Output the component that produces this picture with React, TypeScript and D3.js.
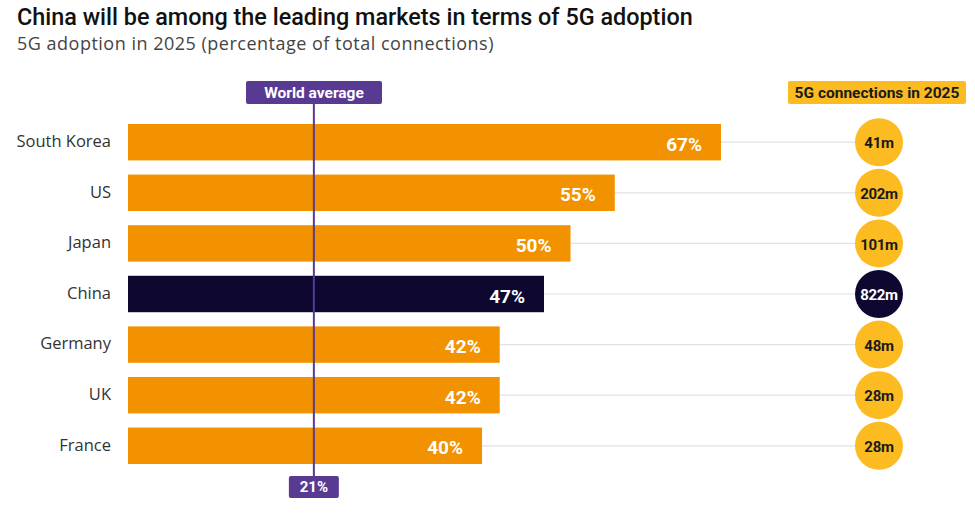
import React, { useEffect, useRef } from "react";
import * as d3 from "d3";

const countries = ["South Korea", "US", "Japan", "China", "Germany", "UK", "France"];
const adoption = [67, 55, 50, 47, 42, 42, 40];
const connections = ["41m", "202m", "101m", "822m", "48m", "28m", "28m"];
const highlight = "China";
const worldAverage = 21;

const W = 975;
const H = 513;
const ORANGE = "#f39200";
const NAVY = "#0e0830";
const YELLOW = "#fbbb21";
const PURPLE = "#593a92";

export default function App() {
  const ref = useRef<SVGSVGElement>(null);

  useEffect(() => {
    if (!ref.current) return;
    const svg = d3.select(ref.current);
    svg.selectAll("*").remove();
    const font = "Roboto, 'Open Sans', sans-serif";
    const wide = "'Open Sans', Roboto, sans-serif";

    // scales
    const x = d3.scaleLinear().domain([0, 67]).range([128, 721]);
    const y = d3
      .scaleBand<string>()
      .domain(countries)
      .range([124, 464])
      .paddingInner(0.28)
      .paddingOuter(0);
    const circleX = 879;

    // title
    svg
      .append("text")
      .attr("x", 17)
      .attr("y", 25)
      .attr("font-family", font)
      .attr("font-size", 23.4)
      .attr("font-weight", 500)
      .attr("fill", "#111")
      .text("China will be among the leading markets in terms of 5G adoption");
    svg
      .append("text")
      .attr("x", 17)
      .attr("y", 50)
      .attr("font-family", wide)
      .attr("font-size", 18)
      .attr("letter-spacing", 0.5)
      .attr("fill", "#444")
      .text("5G adoption in 2025 (percentage of total connections)");

    const rows = svg
      .append("g")
      .selectAll("g")
      .data(countries)
      .join("g");

    // connector lines
    rows
      .append("line")
      .attr("x1", (d, i) => x(adoption[i]))
      .attr("x2", circleX)
      .attr("y1", (d) => y(d)! + y.bandwidth() / 2)
      .attr("y2", (d) => y(d)! + y.bandwidth() / 2)
      .attr("stroke", "#e2e2e2")
      .attr("stroke-width", 1.2);

    rows
      .append("rect")
      .attr("x", x(0))
      .attr("y", (d) => y(d)!)
      .attr("width", (d, i) => x(adoption[i]) - x(0))
      .attr("height", y.bandwidth())
      .attr("fill", (d) => (d === highlight ? NAVY : ORANGE));

    rows
      .append("text")
      .attr("x", 111)
      .attr("y", (d) => y(d)! + y.bandwidth() / 2 - 1)
      .attr("dy", "0.35em")
      .attr("text-anchor", "end")
      .attr("font-family", wide)
      .attr("font-size", 16.5)
      .attr("fill", "#333")
      .text((d) => d);

    rows
      .append("text")
      .attr("x", (d, i) => x(adoption[i]) - 19)
      .attr("y", (d) => y(d)! + y.bandwidth() / 2 + 2)
      .attr("dy", "0.35em")
      .attr("text-anchor", "end")
      .attr("font-family", font)
      .attr("font-size", 19)
      .attr("font-weight", 700)
      .attr("fill", "#fff")
      .text((d, i) => `${adoption[i]}%`);

    rows
      .append("circle")
      .attr("cx", circleX)
      .attr("cy", (d) => y(d)! + y.bandwidth() / 2)
      .attr("r", 24)
      .attr("fill", (d) => (d === highlight ? NAVY : YELLOW));

    rows
      .append("text")
      .attr("x", circleX)
      .attr("y", (d) => y(d)! + y.bandwidth() / 2 + 1)
      .attr("dy", "0.35em")
      .attr("text-anchor", "middle")
      .attr("font-family", font)
      .attr("font-size", 15)
      .attr("font-weight", 700)
      .attr("letter-spacing", -0.3)
      .attr("fill", (d) => (d === highlight ? "#fff" : "#1a1a1a"))
      .text((d, i) => connections[i]);

    // world average
    const ax = x(worldAverage);
    svg
      .append("line")
      .attr("x1", ax)
      .attr("x2", ax)
      .attr("y1", 104)
      .attr("y2", 477)
      .attr("stroke", PURPLE)
      .attr("stroke-width", 2);
    svg
      .append("rect")
      .attr("x", 246)
      .attr("y", 81)
      .attr("width", 136)
      .attr("height", 23)
      .attr("rx", 2)
      .attr("fill", PURPLE);
    svg
      .append("text")
      .attr("x", 314)
      .attr("y", 92.5)
      .attr("dy", "0.35em")
      .attr("text-anchor", "middle")
      .attr("font-family", font)
      .attr("font-size", 15.5)
      .attr("font-weight", 700)
      .attr("fill", "#fff")
      .text("World average");
    svg
      .append("rect")
      .attr("x", ax - 25)
      .attr("y", 476)
      .attr("width", 50)
      .attr("height", 22)
      .attr("rx", 2)
      .attr("fill", PURPLE);
    svg
      .append("text")
      .attr("x", ax)
      .attr("y", 487)
      .attr("dy", "0.35em")
      .attr("text-anchor", "middle")
      .attr("font-family", font)
      .attr("font-size", 15)
      .attr("font-weight", 700)
      .attr("fill", "#fff")
      .text(`${worldAverage}%`);

    // connections header
    svg
      .append("rect")
      .attr("x", 788)
      .attr("y", 81)
      .attr("width", 178)
      .attr("height", 23)
      .attr("rx", 2)
      .attr("fill", YELLOW);
    svg
      .append("text")
      .attr("x", 877)
      .attr("y", 92.5)
      .attr("dy", "0.35em")
      .attr("text-anchor", "middle")
      .attr("font-family", font)
      .attr("font-size", 15.5)
      .attr("font-weight", 700)
      .attr("fill", "#1a1a1a")
      .text("5G connections in 2025");
  }, []);

  return (
    <svg
      ref={ref}
      width={W}
      height={H}
      style={{ position: "absolute", left: 0, top: 0, background: "#fff" }}
    />
  );
}
